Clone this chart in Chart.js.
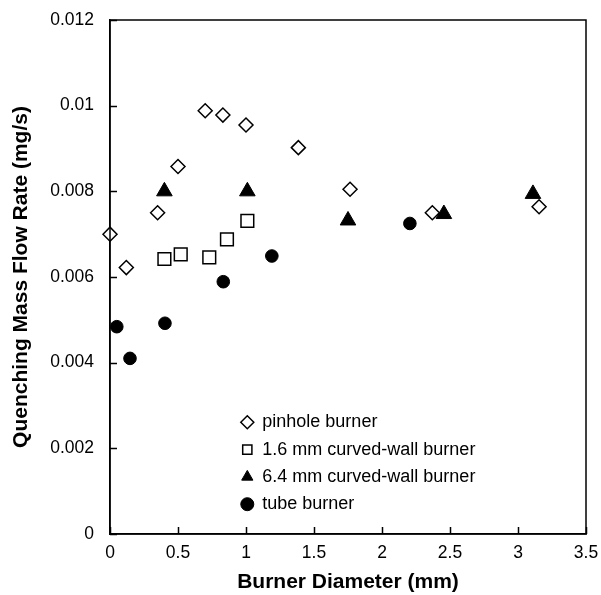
<!DOCTYPE html>
<html>
<head>
<meta charset="utf-8">
<script src="https://cdn.jsdelivr.net/npm/chart.js@4"></script>
<style>
  body { margin: 0; background: #fff; }
  #box { width: 601px; height: 595px; }
</style>
</head>
<body>
<div id="box"><canvas id="quench-chart"></canvas></div>
<script>
// burner diameter (mm) vs quenching mass flow rate (mg/s)
const pinholeX = [0, 0.12, 0.35, 0.5, 0.7, 0.83, 1.0, 1.385, 1.765, 2.37, 3.155];
const pinholeY = [0.0070, 0.00622, 0.0075, 0.00858, 0.00988, 0.00978, 0.00955, 0.00902, 0.00805, 0.0075, 0.00764];

const wall16X = [0.4, 0.52, 0.73, 0.86, 1.01];
const wall16Y = [0.00642, 0.00653, 0.00646, 0.00688, 0.00731];

const wall64X = [0.4, 1.01, 1.75, 2.455, 3.11];
const wall64Y = [0.0080, 0.0080, 0.00732, 0.00747, 0.00794];

const tubeX = [0.05, 0.147, 0.404, 0.833, 1.19, 2.205];
const tubeY = [0.00484, 0.0041, 0.00492, 0.00589, 0.00649, 0.00725];

const seriesNames = ["pinhole burner", "1.6 mm curved-wall burner", "6.4 mm curved-wall burner", "tube burner"];
const xTitle = "Burner Diameter (mm)";
const yTitle = "Quenching Mass Flow Rate (mg/s)";

const FONT = "'Liberation Sans', Arial, sans-serif";

function pts(xs, ys) {
  return xs.map((x, i) => ({ x: x, y: ys[i] }));
}

// box around the plot area + tick marks pointing inward
const frame = {
  id: "frame",
  afterDraw(chart) {
    const a = chart.chartArea, ctx = chart.ctx;
    const sx = chart.scales.x, sy = chart.scales.y;
    ctx.save();
    ctx.strokeStyle = "#000";
    ctx.lineWidth = 1.5;
    ctx.strokeRect(a.left, a.top, a.right - a.left, a.bottom - a.top);
    ctx.beginPath();
    sx.ticks.forEach((t) => {
      const px = Math.round(sx.getPixelForValue(t.value)) + 0.5;
      ctx.moveTo(px, a.bottom);
      ctx.lineTo(px, a.bottom - 7);
    });
    sy.ticks.forEach((t) => {
      const py = Math.round(sy.getPixelForValue(t.value)) + 0.5;
      ctx.moveTo(a.left, py);
      ctx.lineTo(a.left + 7, py);
    });
    ctx.stroke();
    ctx.restore();
  }
};

// move the legend into the lower middle of the plot
const legendSpot = {
  id: "legendSpot",
  afterLayout(chart) {
    const lg = chart.legend, a = chart.chartArea;
    lg.left = a.left + 122;
    lg.top = a.top + 384;
    lg.right = a.right;
    lg.bottom = a.bottom + 200;
  }
};

const data = {
  datasets: [
    {
      label: seriesNames[0],
      data: pts(pinholeX, pinholeY),
      pointStyle: "rectRot",
      pointRadius: 7,
      backgroundColor: "#fff",
      borderColor: "#000",
      borderWidth: 1.5,
      clip: false
    },
    {
      label: seriesNames[1],
      data: pts(wall16X, wall16Y),
      pointStyle: "rect",
      pointRadius: 9,
      backgroundColor: "#fff",
      borderColor: "#000",
      borderWidth: 1.5,
      clip: false
    },
    {
      label: seriesNames[2],
      data: pts(wall64X, wall64Y),
      pointStyle: "triangle",
      pointRadius: 9,
      backgroundColor: "#000",
      borderColor: "#000",
      borderWidth: 1,
      clip: false
    },
    {
      label: seriesNames[3],
      data: pts(tubeX, tubeY),
      pointStyle: "circle",
      pointRadius: 6.3,
      backgroundColor: "#000",
      borderColor: "#000",
      borderWidth: 1,
      clip: false
    }
  ]
};

const config = {
  type: "scatter",
  data: data,
  options: {
    responsive: true,
    maintainAspectRatio: false,
    animation: false,
    layout: { padding: { top: 20, right: 15, left: 0, bottom: 0 } },
    scales: {
      x: {
        type: "linear",
        min: 0,
        max: 3.5,
        afterFit: (s) => { s.height = 61; s.paddingLeft = 0; s.paddingRight = 0; },
        ticks: {
          stepSize: 0.5,
          color: "#000",
          padding: 9,
          font: { family: FONT, size: 17.5 },
          callback: (v) => String(+v.toFixed(1))
        },
        grid: { display: true, drawOnChartArea: false, drawTicks: false },
        border: { display: true, color: "#000", width: 1.5 },
        title: {
          display: true,
          text: xTitle,
          color: "#000",
          padding: { top: 0, bottom: 0 },
          font: { family: FONT, size: 21, weight: "bold" }
        }
      },
      y: {
        type: "linear",
        min: 0,
        max: 0.012,
        afterFit: (s) => { s.width = 110; s.paddingTop = 0; s.paddingBottom = 0; },
        ticks: {
          stepSize: 0.002,
          color: "#000",
          padding: 16,
          font: { family: FONT, size: 17.5 },
          callback: (v) => String(+v.toFixed(4))
        },
        grid: { display: true, drawOnChartArea: false, drawTicks: false },
        border: { display: true, color: "#000", width: 1.5 },
        title: {
          display: true,
          text: yTitle,
          color: "#000",
          padding: { top: 9, bottom: 0 },
          font: { family: FONT, size: 21, weight: "bold" }
        }
      }
    },
    plugins: {
      tooltip: { enabled: false },
      legend: {
        position: "chartArea",
        align: "start",
        labels: {
          usePointStyle: true,
          boxWidth: 12,
          boxHeight: 9.2,
          padding: 9.3,
          color: "#000",
          font: { family: FONT, size: 18 }
        }
      }
    }
  },
  plugins: [frame, legendSpot]
};

let myChart = new Chart(document.getElementById("quench-chart"), config);
</script>
</body>
</html>
